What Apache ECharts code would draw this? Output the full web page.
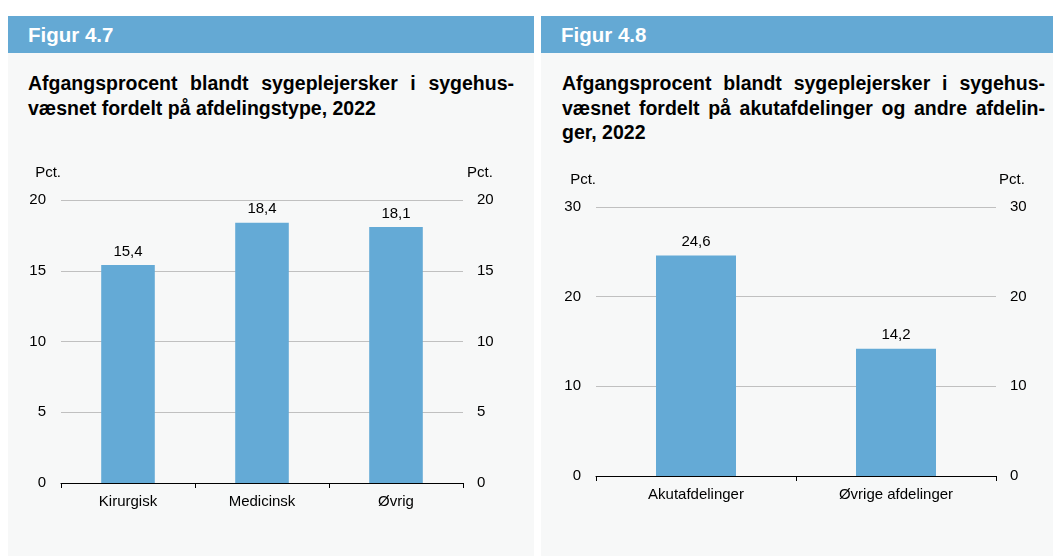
<!DOCTYPE html>
<html>
<head>
<meta charset="utf-8">
<script src="https://cdn.jsdelivr.net/npm/echarts@6/dist/echarts.min.js"></script>
<style>
  body { margin: 0; width: 1053px; height: 556px; background: #fff; position: relative; overflow: hidden;
         font-family: 'Liberation Sans', Arial, sans-serif; }
  .panel { position: absolute; top: 16px; bottom: 0; background: #f7f8f8; }
  .hdr { height: 37px; background: #64a9d4; color: #fff; font-weight: bold; font-size: 20.5px;
         line-height: 38px; padding-left: 20px; }
  .title { position: absolute; top: 55px; font-weight: bold; font-size: 19.5px; line-height: 24.5px; color: #000; }
  .title div { white-space: nowrap; }
  .j { text-align: justify; text-align-last: justify; }
  #chart { position: absolute; left: 0; top: 0; width: 1053px; height: 556px; z-index: 2; }
</style>
</head>
<body>
<div class="panel" style="left:8px; width:526px;">
  <div class="hdr">Figur 4.7</div>
  <div class="title" style="left:20px; width:486px;">
    <div class="j">Afgangsprocent blandt sygeplejersker i sygehus-</div>
    <div>væsnet fordelt på afdelingstype, 2022</div>
  </div>
</div>
<div class="panel" style="left:541px; width:512px;">
  <div class="hdr">Figur 4.8</div>
  <div class="title" style="left:21px; width:483px;">
    <div class="j">Afgangsprocent blandt sygeplejersker i sygehus-</div>
    <div class="j">væsnet fordelt på akutafdelinger og andre afdelin-</div>
    <div>ger, 2022</div>
  </div>
</div>
<div id="chart"></div>
<script>
// data
var cats1 = ['Kirurgisk', 'Medicinsk', 'Øvrig'];
var vals1 = [15.4, 18.4, 18.1];
var cats2 = ['Akutafdelinger', 'Øvrige afdelinger'];
var vals2 = [24.6, 14.2];

var font = "'Liberation Sans', Arial, sans-serif";
var barColor = '#64aad6';

function fmt(v) {
  return String(v).replace('.', ',');
}

function yAxisPair(gridIndex, max, interval, rightPad) {
  var common = {
    type: 'value',
    gridIndex: gridIndex,
    min: 0,
    max: max,
    interval: interval,
    name: 'Pct.',
    nameLocation: 'end',
    nameGap: 27,
    axisLine: { show: false },
    axisTick: { show: false },
    axisLabel: { color: '#000', fontSize: 15, fontFamily: font, margin: 15 }
  };
  var left = Object.assign({}, common, {
    position: 'left',
    nameTextStyle: { color: '#000', fontSize: 15, fontFamily: font, align: 'right', verticalAlign: 'middle' },
    splitLine: { show: true, lineStyle: { color: '#c0c0c0', width: 1 } }
  });
  var right = Object.assign({}, common, {
    position: 'right',
    nameTextStyle: { color: '#000', fontSize: 15, fontFamily: font, align: 'left', verticalAlign: 'middle',
                     padding: [0, 0, 0, rightPad] },
    splitLine: { show: false }
  });
  right.axisLabel = Object.assign({}, common.axisLabel, { margin: 14 });
  return [left, right];
}

function xAxis(gridIndex, cats) {
  return {
    type: 'category',
    gridIndex: gridIndex,
    data: cats,
    axisLine: { lineStyle: { color: '#000', width: 1 } },
    axisTick: { show: true, length: 5, lineStyle: { color: '#000' } },
    axisLabel: { color: '#000', fontSize: 15, fontFamily: font, margin: 11 }
  };
}

function barSeries(idx, vals) {
  return {
    type: 'bar',
    xAxisIndex: idx,
    yAxisIndex: idx * 2,
    data: vals,
    barWidth: '40%',
    itemStyle: { color: barColor },
    label: {
      show: true, position: 'top', distance: 6,
      color: '#000', fontSize: 15, fontFamily: font,
      formatter: function (p) { return fmt(p.value); }
    }
  };
}

var chart = echarts.init(document.getElementById('chart'), null, { renderer: 'canvas' });
var y1 = yAxisPair(0, 20, 5, 4);
var y2 = yAxisPair(1, 30, 10, 3);

chart.setOption({
  backgroundColor: 'transparent',
  animation: false,
  grid: [
    { left: 61, top: 200, width: 402, height: 283 },
    { left: 596, top: 207, width: 400, height: 269 }
  ],
  xAxis: [xAxis(0, cats1), xAxis(1, cats2)],
  yAxis: [y1[0], y1[1], y2[0], y2[1]],
  series: [barSeries(0, vals1), barSeries(1, vals2)]
});
</script>
</body>
</html>
